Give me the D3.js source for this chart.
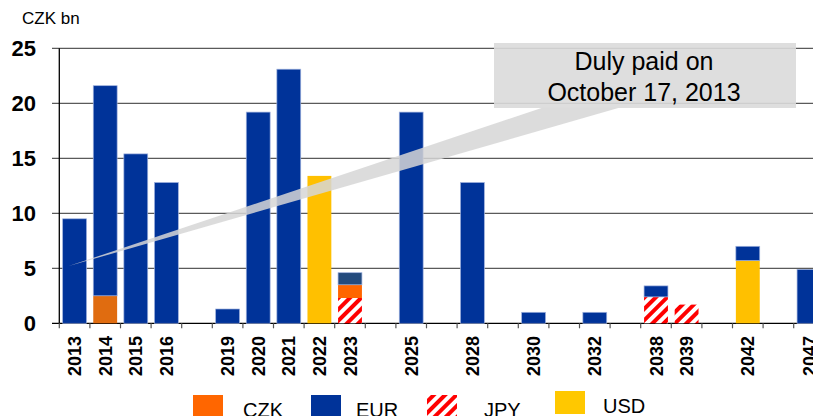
<!DOCTYPE html>
<html>
<head>
<meta charset="utf-8">
<script src="https://cdn.jsdelivr.net/npm/d3@7"></script>
<style>
  body { margin: 0; background: #fff; }
  text { font-family: "Liberation Sans", Arial, sans-serif; }
</style>
</head>
<body>
<div id="chart"></div>
<script>
// maturity years (empty string = gap slot on the axis)
var categories = ["2013", "2014", "2015", "2016", "", "2019", "2020", "2021", "2022", "2023", "",
    "2025", "", "2028", "", "2030", "", "2032", "", "2038", "2039", "", "2042", "", "2047"];

// CZK bn per currency
var eur = [9.5, 19.1, 15.4, 12.8, 0, 1.3, 19.2, 23.1, 0, 1.1, 0,
    19.2, 0, 12.8, 0, 1.0, 0, 1.0, 0, 1.0, 0, 0, 1.3, 0, 4.9];
var czk = [0, 2.5, 0, 0, 0, 0, 0, 0, 0, 1.2, 0,
    0, 0, 0, 0, 0, 0, 0, 0, 0, 0, 0, 0, 0, 0];
var jpy = [0, 0, 0, 0, 0, 0, 0, 0, 0, 2.3, 0,
    0, 0, 0, 0, 0, 0, 0, 0, 2.4, 1.7, 0, 0, 0, 0];
var usd = [0, 0, 0, 0, 0, 0, 0, 0, 13.4, 0, 0,
    0, 0, 0, 0, 0, 0, 0, 0, 0, 0, 0, 5.7, 0, 0];

var yTicks = [0, 5, 10, 15, 20, 25];
var legendNames = ["CZK", "EUR", "JPY", "USD"];

var width = 813, height = 416;

var svg = d3.select("#chart").append("svg")
    .attr("width", width)
    .attr("height", height);

// stripes for JPY
var defs = svg.append("defs");
var pat = defs.append("pattern")
    .attr("id", "jpyStripe")
    .attr("patternUnits", "userSpaceOnUse")
    .attr("width", 8)
    .attr("height", 8)
    .attr("patternTransform", "rotate(45)");
pat.append("rect").attr("width", 8).attr("height", 8).attr("fill", "#fff");
pat.append("rect").attr("width", 4).attr("height", 8).attr("fill", "#ff0000");

var colors = { CZK: "#ff6600", EUR: "#003399", JPY: "url(#jpyStripe)", USD: "#ffc000" };

var x = d3.scaleBand()
    .domain(d3.range(categories.length))
    .range([59.3, 59.3 + 30.6 * categories.length])
    .paddingInner(0.22)
    .paddingOuter(0.11);

var y = d3.scaleLinear()
    .domain([0, 25])
    .range([323.3, 48.3]);

var step = x.step();
var slotLeft = function (i) { return x(i) - step * 0.11; };

// grid lines
svg.append("g")
    .selectAll("line")
    .data(yTicks)
    .enter()
    .append("line")
    .attr("x1", 52)
    .attr("x2", width)
    .attr("y1", function (d) { return y(d); })
    .attr("y2", function (d) { return y(d); })
    .attr("stroke", function (d) { return d === 0 ? "#000" : "#5a5a5a"; })
    .attr("stroke-width", 1.2);

// y labels
svg.append("g")
    .selectAll("text")
    .data(yTicks)
    .enter()
    .append("text")
    .attr("x", 36)
    .attr("y", function (d) { return y(d) + 8; })
    .attr("text-anchor", "end")
    .style("font-size", "22px")
    .style("font-weight", "bold")
    .text(function (d) { return d; });

svg.append("text")
    .attr("x", 22)
    .attr("y", 24)
    .style("font-size", "17px")
    .text("CZK bn");

// stacked bars, bottom to top: JPY, CZK, USD, EUR
var rows = categories.map(function (c, i) {
    return { i: i, year: c, JPY: jpy[i], CZK: czk[i], USD: usd[i], EUR: eur[i] };
});
var stack = d3.stack().keys(["JPY", "CZK", "USD", "EUR"]);
var series = stack(rows);

// a couple of segments are shaded a bit differently in the source
var override = { "2014CZK": "#e06c10", "2023EUR": "#234b7e" };

var barGroup = svg.append("g");
series.forEach(function (s) {
    barGroup.selectAll(null)
        .data(s.filter(function (d) { return d[1] - d[0] > 0; }))
        .enter()
        .append("rect")
        .attr("x", function (d) { return x(d.data.i); })
        .attr("width", x.bandwidth())
        .attr("y", function (d) { return y(d[1]); })
        .attr("height", function (d) { return y(d[0]) - y(d[1]); })
        .attr("fill", function (d) { return override[d.data.year + s.key] || colors[s.key]; })
        .attr("stroke", s.key === "EUR" ? "#9fb1dd" : "none")
        .attr("stroke-width", 0.7);
});

// axes lines
svg.append("line")
    .attr("x1", 59.3).attr("x2", 59.3)
    .attr("y1", y(25)).attr("y2", y(0))
    .attr("stroke", "#000").attr("stroke-width", 1.3);

svg.append("g")
    .selectAll("line")
    .data(d3.range(categories.length + 1))
    .enter()
    .append("line")
    .attr("x1", function (i) { return slotLeft(0) + i * step; })
    .attr("x2", function (i) { return slotLeft(0) + i * step; })
    .attr("y1", y(0))
    .attr("y2", y(0) + 5)
    .attr("stroke", "#555")
    .attr("stroke-width", 1.2);

// x labels
svg.append("g")
    .selectAll("text")
    .data(categories)
    .enter()
    .append("text")
    .attr("transform", function (d, i) {
        return "translate(" + (x(i) + x.bandwidth() / 2 + 6.5) + "," + 336 + ") rotate(-90)";
    })
    .attr("text-anchor", "end")
    .style("font-size", "18px")
    .style("font-weight", "bold")
    .text(function (d) { return d; });

// callout wedge + box
var tip = [x(0) + 6, y(5.2)];
svg.append("path")
    .attr("d", "M" + tip[0] + "," + tip[1] + " L543,107.5 L620,107.5 Z")
    .attr("fill", "#d6d6d6")
    .attr("opacity", 0.85);

svg.append("rect")
    .attr("x", 494)
    .attr("y", 43)
    .attr("width", 302)
    .attr("height", 65)
    .attr("fill", "#dadada")
    .attr("opacity", 0.9);

svg.append("text")
    .attr("x", 644)
    .attr("y", 70)
    .attr("text-anchor", "middle")
    .style("font-size", "25px")
    .text("Duly paid on");
svg.append("text")
    .attr("x", 644)
    .attr("y", 101)
    .attr("text-anchor", "middle")
    .style("font-size", "25px")
    .text("October 17, 2013");

// legend
var legendX = [193, 311, 427, 555];
var legendTextX = [243, 356, 484, 603];
var legendTop = [395, 395, 395, 391];
var legend = svg.append("g");
legendNames.forEach(function (name, k) {
    legend.append("rect")
        .attr("x", legendX[k])
        .attr("y", legendTop[k])
        .attr("width", 30)
        .attr("height", 23)
        .attr("fill", name === "USD" ? "#ffc800" : colors[name]);
    legend.append("text")
        .attr("x", legendTextX[k])
        .attr("y", name === "USD" ? 413 : 416.5)
        .style("font-size", "20px")
        .text(name);
});
</script>
</body>
</html>
